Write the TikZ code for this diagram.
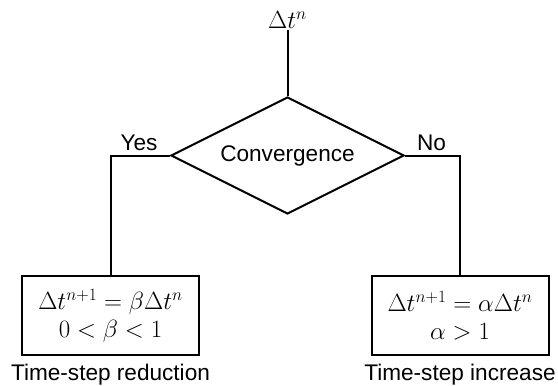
\documentclass[tikz,border=0pt]{standalone}
\usepackage{fontspec}
\setsansfont{Liberation Sans}
\usetikzlibrary{shapes.geometric}
\tikzset{
  conn/.style={line width=2pt},
  lbl/.style={font=\sffamily\fontsize{22.6}{27}\selectfont, inner sep=0pt},
  mathlbl/.style={font=\fontsize{23}{28}\selectfont},
  decision/.style={diamond, draw, line width=2pt, inner sep=0pt, aspect=1.99, minimum width=233pt, minimum height=117pt, font=\sffamily\fontsize{22.6}{27}\selectfont},
  resultbox/.style={rectangle, draw, line width=2pt, minimum width=177pt, minimum height=79pt, align=center, font=\fontsize{23}{28}\selectfont}
}
\begin{document}
\begin{tikzpicture}[x=1pt,y=-1pt]
\useasboundingbox (0,0) rectangle (558,386);
\node[mathlbl, inner sep=1pt] (dt) at (287.5,20) {$\Delta t^n$};
\node[decision] (dia) at (287.5,155.5) {Convergence};
\node[resultbox] (lbox) at (110.5,315.5) {$\Delta t^{n+1}=\beta\Delta t^n$\\$0<\beta<1$};
\node[resultbox] (rbox) at (460,315.5) {$\Delta t^{n+1}=\alpha\Delta t^n$\\$\alpha>1$};
\node[lbl] (yes) at (139,143) {Yes};
\node[lbl] (no) at (431.5,143) {No};
\node[lbl] (red) at (110.5,375) {Time-step reduction};
\node[lbl] (inc) at (460,375) {Time-step increase};
\draw[conn] (dt.south) -- (dia.north);
\draw[conn] (dia.west) -| (lbox.north);
\draw[conn] (dia.east) -| (rbox.north);
\end{tikzpicture}
\end{document}
